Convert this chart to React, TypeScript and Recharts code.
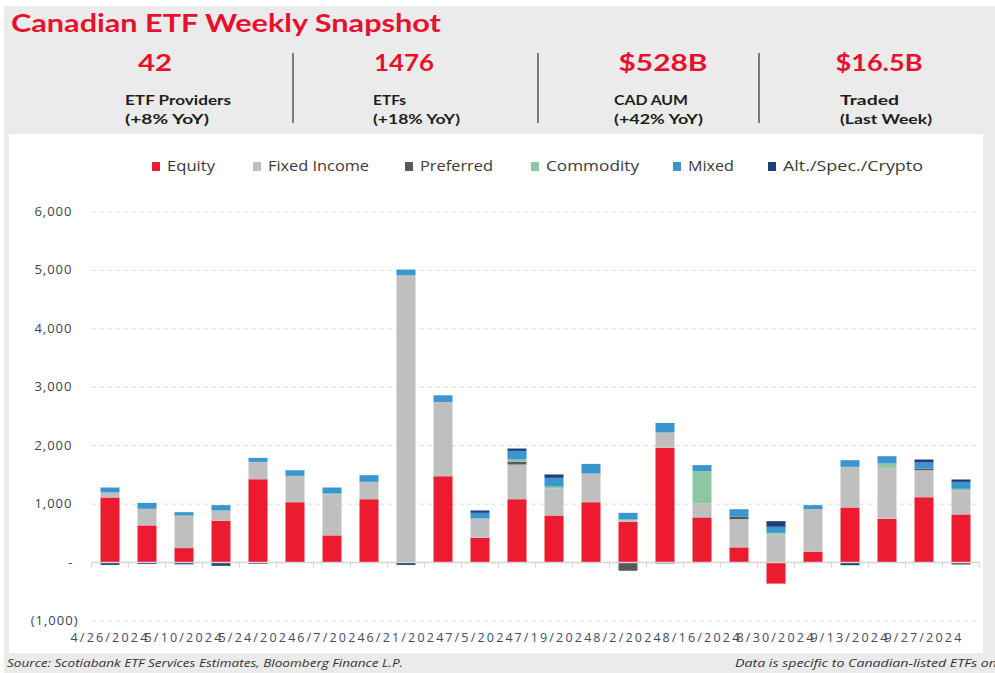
import React from "react";
import { BarChart, Bar, XAxis, YAxis, CartesianGrid, Legend, ReferenceLine } from "recharts";

const dates = [
  "4/26/2024", "5/3/2024", "5/10/2024", "5/17/2024", "5/24/2024", "5/31/2024",
  "6/7/2024", "6/14/2024", "6/21/2024", "6/28/2024", "7/5/2024", "7/12/2024",
  "7/19/2024", "7/26/2024", "8/2/2024", "8/9/2024", "8/16/2024", "8/23/2024",
  "8/30/2024", "9/6/2024", "9/13/2024", "9/20/2024", "9/27/2024", "10/4/2024",
];
const equity = [1115, 636, 248, 715, 1427, 1034, 465, 1085, 0, 1479, 424, 1085, 806, 1034, 698, 1963, 773, 260, -360, 185, 944, 749, 1120, 824];
const fixedIncome = [85, 284, 558, 177, 296, 450, 702, 297, 4915, 1270, 331, 593, 462, 490, 20, 263, 240, 484, 482, 730, 694, 872, 461, 410];
const preferred = [0, 0, 0, 0, 0, 0, 0, 0, 0, 0, 0, 45, 0, 0, -140, 0, 0, 39, 0, 0, 0, 0, 29, -35];
const commodity = [0, 0, 0, 0, 0, 0, 15, 0, 0, 0, 0, 41, 32, 0, 20, 0, 552, 0, 28, 0, 0, 74, 0, 28];
const mixed = [85, 102, 57, 91, 69, 97, 103, 114, 100, 114, 96, 147, 150, 165, 113, 164, 103, 130, 102, 68, 114, 126, 103, 119];
const alt = [-40, -25, -30, -55, -20, 0, 0, 0, -40, 0, 41, 41, 58, 0, 0, -15, 0, 0, 97, 0, -45, 0, 51, 41];

const yTicks = [-1000, 0, 1000, 2000, 3000, 4000, 5000, 6000];

const seriesKeys = ["equity", "fixedIncome", "preferred", "commodity", "mixed", "alt"];
const seriesNames = ["Equity", "Fixed Income", "Preferred", "Commodity", "Mixed", "Alt./Spec./Crypto"];
const seriesColors = ["#ED1B2F", "#BFBFBF", "#595959", "#8DC6A2", "#3A96CF", "#1F3F7A"];
const seriesValues = [equity, fixedIncome, preferred, commodity, mixed, alt];

const statValues = ["42", "1476", "$528B", "$16.5B"];
const statLabels = ["ETF Providers", "ETFs", "CAD AUM", "Traded"];
const statSubs = ["(+8% YoY)", "(+18% YoY)", "(+42% YoY)", "(Last Week)"];

const data = dates.map((d, i) => {
  const row: any = { date: d };
  seriesKeys.forEach((k, j) => (row[k] = seriesValues[j][i]));
  return row;
});

const RED = "#E8112D";
const FONT = "Lato, 'Open Sans', sans-serif";

// layout helpers for header/legend (not data)
const statCenters = [155, 404, 663, 879];
const statNumLen = [34, 60, 89, 87];
const statLeft = [125, 373, 614, 840];
const statLabelLen = [106, 33, 74, 59];
const statSubLen = [84, 87, 89, 92];
const dividerX = [293, 538, 759];
const legendX = [152, 253, 405, 531, 673, 768];
const legendLen = [48, 101, 73, 93, 46, 140];

const fmt = (v: number) => {
  if (v === 0) return "-";
  const s = Math.abs(v).toLocaleString("en-US");
  return v < 0 ? `(${s})` : s;
};

const YTick = (props: any) => {
  const { x, y, payload } = props;
  const v = payload.value;
  return (
    <text
      x={v < 0 ? x - 5 : x - 11}
      y={y}
      dy={4}
      textAnchor="end"
      fontSize={13}
      fontFamily="'Open Sans', sans-serif"
      letterSpacing={v === 0 ? 0 : 1}
      fill="#3b3f55"
    >
      {fmt(v)}
    </text>
  );
};

const XTick = (props: any) => {
  const { x, y, payload } = props;
  return (
    <text
      x={x}
      y={y}
      dy={13}
      textAnchor="middle"
      fontSize={12.5}
      fontFamily="'Open Sans', sans-serif"
      letterSpacing={2.2}
      fill="#444a5e"
    >
      {payload.value}
    </text>
  );
};

const ZeroLine = (props: any) => {
  const { x1, x2, y1 } = props;
  const n = dates.length;
  const step = (x2 - x1) / n;
  const ticks = [];
  for (let i = 0; i <= n; i++) {
    const tx = x1 + i * step;
    ticks.push(<line key={i} x1={tx} x2={tx} y1={y1} y2={y1 + 5} stroke="#d4d4d4" strokeWidth={1} />);
  }
  return (
    <g>
      <line x1={x1} x2={x2} y1={y1} y2={y1} stroke="#d4d4d4" strokeWidth={1.5} />
      {ticks}
    </g>
  );
};

const LegendContent = () => (
  <svg width={995} height={24} style={{ display: "block" }}>
    {seriesNames.map((name, i) => (
      <g key={name}>
        <rect x={legendX[i]} y={11} width={8} height={9} fill={seriesColors[i]} />
        <text
          x={legendX[i] + 15}
          y={20}
          fontSize={14}
          fontFamily="'Open Sans', sans-serif"
          fill="#3a3a3a"
          textLength={legendLen[i]}
          lengthAdjust="spacingAndGlyphs"
        >
          {name}
        </text>
      </g>
    ))}
  </svg>
);

export default function App() {
  return (
    <div style={{ position: "absolute", left: 0, top: 0, width: 995, height: 673, background: "#ffffff", overflow: "hidden" }}>
      <div style={{ position: "absolute", left: 4, top: 6, width: 991, height: 667, background: "#ebebeb" }} />
      <div style={{ position: "absolute", left: 9, top: 134, width: 974, height: 519, background: "#ffffff" }} />
      <svg width={995} height={673} style={{ position: "absolute", left: 0, top: 0 }}>
        <text
          x={11}
          y={32}
          fontSize={25}
          fontWeight={700}
          fontFamily={FONT}
          fill={RED}
          textLength={430}
          lengthAdjust="spacingAndGlyphs"
        >
          Canadian ETF Weekly Snapshot
        </text>
        {statValues.map((v, i) => (
          <g key={v}>
            <text
              x={statCenters[i]}
              y={71}
              textAnchor="middle"
              fontSize={23}
              fontWeight={700}
              fontFamily={FONT}
              fill={RED}
              textLength={statNumLen[i]}
              lengthAdjust="spacingAndGlyphs"
            >
              {v}
            </text>
            <text
              x={statLeft[i]}
              y={105}
              fontSize={13}
              fontWeight={700}
              fontFamily={FONT}
              fill="#1e1e1e"
              textLength={statLabelLen[i]}
              lengthAdjust="spacingAndGlyphs"
            >
              {statLabels[i]}
            </text>
            <text
              x={statLeft[i]}
              y={124}
              fontSize={13}
              fontWeight={700}
              fontFamily={FONT}
              fill="#1e1e1e"
              textLength={statSubLen[i]}
              lengthAdjust="spacingAndGlyphs"
            >
              {statSubs[i]}
            </text>
          </g>
        ))}
        {dividerX.map((x) => (
          <line key={x} x1={x} x2={x} y1={53} y2={123} stroke="#555" strokeWidth={1.5} />
        ))}
        <text
          x={7}
          y={667}
          fontSize={11}
          fontStyle="italic"
          fontFamily="'Open Sans', sans-serif"
          fill="#333"
          textLength={396}
          lengthAdjust="spacingAndGlyphs"
        >
          Source: Scotiabank ETF Services Estimates, Bloomberg Finance L.P.
        </text>
        <text
          x={735}
          y={667}
          fontSize={11}
          fontStyle="italic"
          fontFamily="'Open Sans', sans-serif"
          fill="#333"
          textLength={262}
          lengthAdjust="spacingAndGlyphs"
        >
          Data is specific to Canadian-listed ETFs on
        </text>
      </svg>
      <div style={{ position: "absolute", left: 0, top: 0 }}>
        <BarChart
          width={995}
          height={673}
          data={data}
          stackOffset="sign"
          barSize={19}
          margin={{ top: 188, right: 15.5, bottom: 22, left: 0 }}
        >
          <CartesianGrid vertical={false} stroke="#d9d9d9" strokeDasharray="4 4" />
          <Legend
            verticalAlign="top"
            wrapperStyle={{ top: 151, left: 0, width: 995, height: 24 }}
            content={LegendContent}
          />
          <XAxis
            dataKey="date"
            interval={1}
            tickLine={false}
            axisLine={false}
            height={30}
            tick={XTick}
          />
          <YAxis
            domain={[-1000, 6000]}
            ticks={yTicks}
            width={91.5}
            axisLine={false}
            tickLine={false}
            tick={YTick}
            interval={0}
          />
          {seriesKeys.map((k, i) => (
            <Bar key={k} dataKey={k} name={seriesNames[i]} stackId="a" fill={seriesColors[i]} isAnimationActive={false} />
          ))}
          <ReferenceLine y={0} shape={ZeroLine} />
        </BarChart>
      </div>
    </div>
  );
}
